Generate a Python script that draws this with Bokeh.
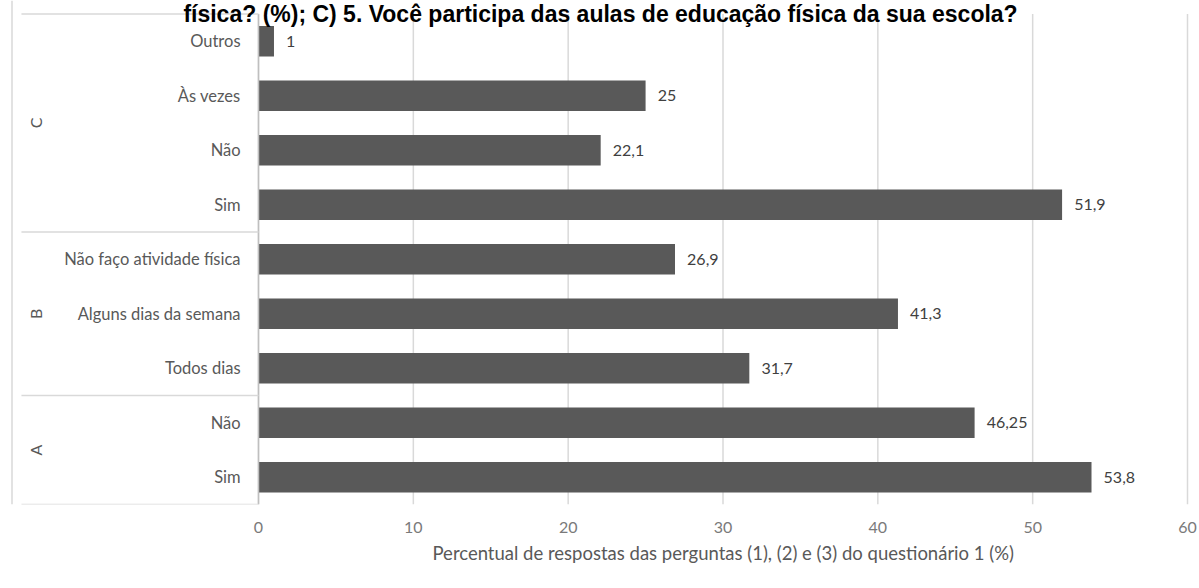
import math
from bokeh.plotting import figure
from bokeh.models import Range1d, FixedTicker, ColumnDataSource, Title
from bokeh.core.properties import value
from bokeh.embed import file_html
from bokeh.resources import INLINE

# ---- data ----
title_text = "física? (%); C) 5. Você participa das aulas de educação física da sua escola?"
categories = ["Sim", "Não", "Todos dias", "Alguns dias da semana",
              "Não faço atividade física", "Sim", "Não", "Às vezes", "Outros"]
group_of = ["A", "A", "B", "B", "B", "C", "C", "C", "C"]
groups = ["A", "B", "C"]
values = [53.8, 46.25, 31.7, 41.3, 26.9, 51.9, 22.1, 25, 1]
x_ticks = [0, 10, 20, 30, 40, 50, 60]
x_label = "Percentual de respostas das perguntas (1), (2) e (3) do questionário 1 (%)"

FONT = "Lato"
BAR = "#595959"
TXT = "#595959"
LINE = "#d9d9d9"

n = len(categories)
ypos = [i + 0.5 for i in range(n)]
labels = [f"{v:g}".replace(".", ",") for v in values]

p = figure(width=1199, height=588, output_backend="svg", toolbar_location=None,
           x_range=Range1d(-16.663, 60.775), y_range=Range1d(0, 9.248),
           y_axis_location=None, min_border_left=0, min_border_right=0,
           min_border_top=0, min_border_bottom=84)
p.outline_line_color = None
p.xgrid.visible = False
p.ygrid.visible = False
p.background_fill_color = "white"
p.border_fill_color = "white"

# vertical gridlines
p.segment(x0=x_ticks, x1=x_ticks, y0=[0] * len(x_ticks), y1=[n] * len(x_ticks),
          line_color=LINE, line_width=1.5)

# bars
src = ColumnDataSource(dict(y=ypos, v=values, lab=labels, cat=categories,
                            lx=[v + 0.78 for v in values],
                            cx=[-1.16] * n))
p.hbar(y="y", right="v", left=0, height=0.56, source=src, fill_color=BAR,
       line_color=None)
p.text(x="lx", y="y", text="lab", source=src, text_align="left",
       text_baseline="middle", text_font=value(FONT), text_font_size="16px",
       text_color="#404040")
p.text(x="cx", y="y", text="cat", source=src, text_align="right",
       text_baseline="middle", text_font=value(FONT), text_font_size="16.5px",
       text_color=TXT)

# category axis line and group separators
p.segment(x0=[0], x1=[0], y0=[0], y1=[n], line_color="#bfbfbf", line_width=1.5)
bounds = [0]
for g in groups:
    bounds.append(bounds[-1] + group_of.count(g))
p.segment(x0=[-15.31] * len(bounds), x1=[0] * len(bounds), y0=bounds, y1=bounds,
          line_color=LINE, line_width=1.5)
p.segment(x0=[-15.92], x1=[-15.92], y0=[0], y1=[9.248], line_color=LINE,
          line_width=1.5)

gcent = [(bounds[i] + bounds[i + 1]) / 2 for i in range(len(groups))]
p.text(x=[-14.4] * len(groups), y=gcent, text=groups, angle=math.pi / 2,
       text_align="center", text_baseline="middle", text_font=value(FONT),
       text_font_size="16px", text_color=TXT)

# title (top strip)
p.text(x=[22.09], y=[9.248], text=[title_text], text_align="center",
       text_baseline="top", text_font=value("Liberation Sans"),
       text_font_style="bold", text_font_size="23px", text_color="black")

# x axis
ax = p.xaxis[0]
ax.ticker = FixedTicker(ticks=x_ticks)
ax.axis_line_color = None
ax.major_tick_line_color = None
ax.minor_tick_line_color = None
ax.major_tick_out = 0
ax.major_label_standoff = 17
ax.major_label_text_font = FONT
ax.major_label_text_font_size = "16px"
ax.major_label_text_color = "#7a7a7a"

# axis title centred under the plot area
p.add_layout(Title(text=x_label, align="left", offset=432, standoff=9,
                   text_font=FONT, text_font_size="18.5px",
                   text_font_style="normal", text_color=TXT), "below")

open("out.html", "w").write(file_html(p, INLINE))
